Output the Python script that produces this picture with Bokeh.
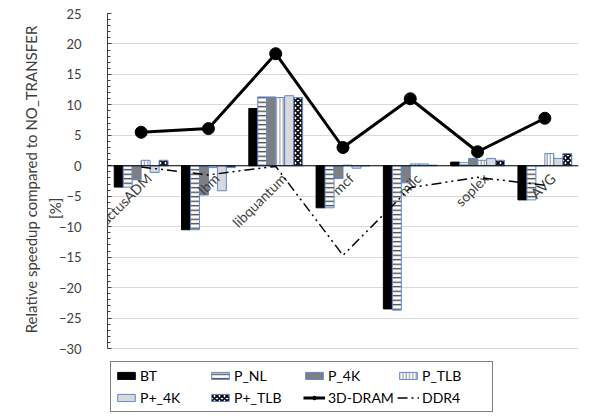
import math
from bokeh.plotting import figure
from bokeh.models import (ColumnDataSource, FixedTicker, Span, Legend, LegendItem,
                          Range1d, LinearAxis)
from bokeh.transform import dodge
from bokeh.core.properties import value
from bokeh.embed import file_html
from bokeh.resources import INLINE

categories = ["cactusADM", "lbm", "libquantum", "mcf", "milc", "soplex", "AVG"]
bt     = [-3.5, -10.5, 9.4, -6.9, -23.5, 0.6, -5.6]
p_nl   = [-3.5, -10.5, 11.3, -6.9, -23.7, 0.5, -5.6]
p_4k   = [-2.3, -4.8, 11.3, -2.1, -2.8, 1.2, 0.0]
p_tlb  = [0.9, -0.3, 11.2, 0.1, 0.3, 0.9, 2.0]
pp_4k  = [-1.1, -4.1, 11.5, -0.4, 0.3, 1.2, 1.2]
pp_tlb = [0.9, -0.3, 11.2, 0.0, 0.1, 0.9, 2.0]
dram3d = [5.5, 6.1, 18.4, 3.0, 11.0, 2.3, 7.8]
ddr4   = [-0.2, -1.5, -0.1, -14.7, -3.6, -1.9, -3.2]
y_ticks = [-30, -25, -20, -15, -10, -5, 0, 5, 10, 15, 20, 25]

FONT = "Lato"
TXT = "#404040"
BLUE = "#5b87cf"
NB = "\u00a0"

# layout: frame runs from y=25 (top) down to the bottom of the canvas so the legend fits inside
W, H = 590, 418
TOP, LEFT, RIGHT = 13, 107, 12
AXIS_PX = 335                       # pixels covering the -30..25 axis span
y_lo = 25 - 55 * (H - TOP) / AXIS_PX

src = ColumnDataSource(dict(cat=categories, bt=bt, p_nl=p_nl, p_4k=p_4k, p_tlb=p_tlb,
                            pp_4k=pp_4k, pp_tlb=pp_tlb, dram3d=dram3d, ddr4=ddr4,
                            zero=[0] * len(categories)))

p = figure(x_range=categories, y_range=Range1d(y_lo, 25), width=W, height=H,
           output_backend="svg", toolbar_location=None,
           min_border_left=LEFT, min_border_right=RIGHT, min_border_top=TOP,
           min_border_bottom=0)
p.outline_line_color = None
p.xaxis.visible = False
p.xgrid.grid_line_color = None
p.ygrid.grid_line_color = "#d9d9d9"
p.ygrid.ticker = FixedTicker(ticks=y_ticks)

yax = p.yaxis[0]
yax.bounds = (-30, 25)
yax.ticker = FixedTicker(ticks=y_ticks, minor_ticks=list(range(-30, 26)))
yax.axis_line_color = TXT
yax.major_tick_line_color = TXT
yax.minor_tick_line_color = TXT
yax.major_tick_in = 4
yax.major_tick_out = 0
yax.minor_tick_in = 3
yax.minor_tick_out = 0
yax.major_label_standoff = 26
yax.major_label_text_font = FONT
yax.major_label_text_font_size = "13px"
yax.major_label_text_color = TXT
# leading no-break spaces move the centred title up to the middle of the -30..25 span
yax.axis_label = NB * 4 + "[%]"
yax.axis_label_text_font = FONT
yax.axis_label_text_font_size = "15px"
yax.axis_label_text_font_style = "normal"
yax.axis_label_text_color = TXT
yax.axis_label_standoff = -8

tax = LinearAxis(ticker=FixedTicker(ticks=[]), axis_line_color=None,
                 major_tick_line_color=None, minor_tick_line_color=None,
                 major_label_text_font_size="1px", major_label_standoff=0,
                 axis_label=NB * 19 + "Relative speedup compared to NO_TRANSFER",
                 axis_label_text_font=FONT, axis_label_text_font_size="15px",
                 axis_label_text_font_style="normal", axis_label_text_color=TXT,
                 axis_label_standoff=3, bounds=(-30, 25))
p.add_layout(tax, "left")

w = 0.8 / 6
series = [
    ("bt", "BT", dict(fill_color="black", line_color="black")),
    ("p_nl", "P_NL", dict(fill_color="white", line_color=BLUE, hatch_pattern="horizontal_line",
                          hatch_color="#404040", hatch_scale=4.5, hatch_weight=1.3)),
    ("p_4k", "P_4K", dict(fill_color="#7f7f7f", line_color=BLUE)),
    ("p_tlb", "P_TLB", dict(fill_color="white", line_color=BLUE, hatch_pattern="vertical_line",
                            hatch_color="#8c8c8c", hatch_scale=3.3, hatch_weight=1)),
    ("pp_4k", "P+_4K", dict(fill_color="#d9d9d9", line_color=BLUE)),
    ("pp_tlb", "P+_TLB", dict(fill_color="white", line_color=BLUE,
                              hatch_pattern="diagonal_cross", hatch_color="black",
                              hatch_scale=5, hatch_weight=1.8)),
]
items = []
for i, (col, label, style) in enumerate(series):
    r = p.vbar(x=dodge("cat", (i - 2.5) * w, range=p.x_range), top=col, bottom=0,
               width=w, source=src, line_width=1, **style)
    items.append(LegendItem(label=label, renderers=[r]))

p.add_layout(Span(location=0, dimension="width", line_color="black", line_width=1))

p.text(x="cat", y="zero", text="cat", source=src, angle=math.pi / 4,
       text_align="right", text_baseline="top", x_offset=2, y_offset=4,
       text_font=value(FONT), text_font_size="14px", text_color=TXT)

rl = p.line(x="cat", y="dram3d", source=src, line_color="black", line_width=3)
rs = p.scatter(x="cat", y="dram3d", source=src, size=12, marker="circle",
               fill_color="black", line_color="black")
rd = p.line(x="cat", y="ddr4", source=src, line_color="black", line_width=1.5,
            line_dash="10 4 2 4 2 4")
items.append(LegendItem(label="3D-DRAM", renderers=[rl, rs]))
items.append(LegendItem(label="DDR4", renderers=[rd]))

legend = Legend(items=items, location=(3, 6), orientation="horizontal", ncols=4,
                glyph_width=22, glyph_height=9, label_standoff=3, label_width=66,
                label_height=19, spacing=3, padding=4, margin=0,
                label_text_font=FONT, label_text_font_size="14px", label_text_color="black",
                border_line_color="black", border_line_width=1,
                background_fill_color="white", background_fill_alpha=1)
p.add_layout(legend, "center")

open("out.html", "w").write(file_html(p, INLINE))
